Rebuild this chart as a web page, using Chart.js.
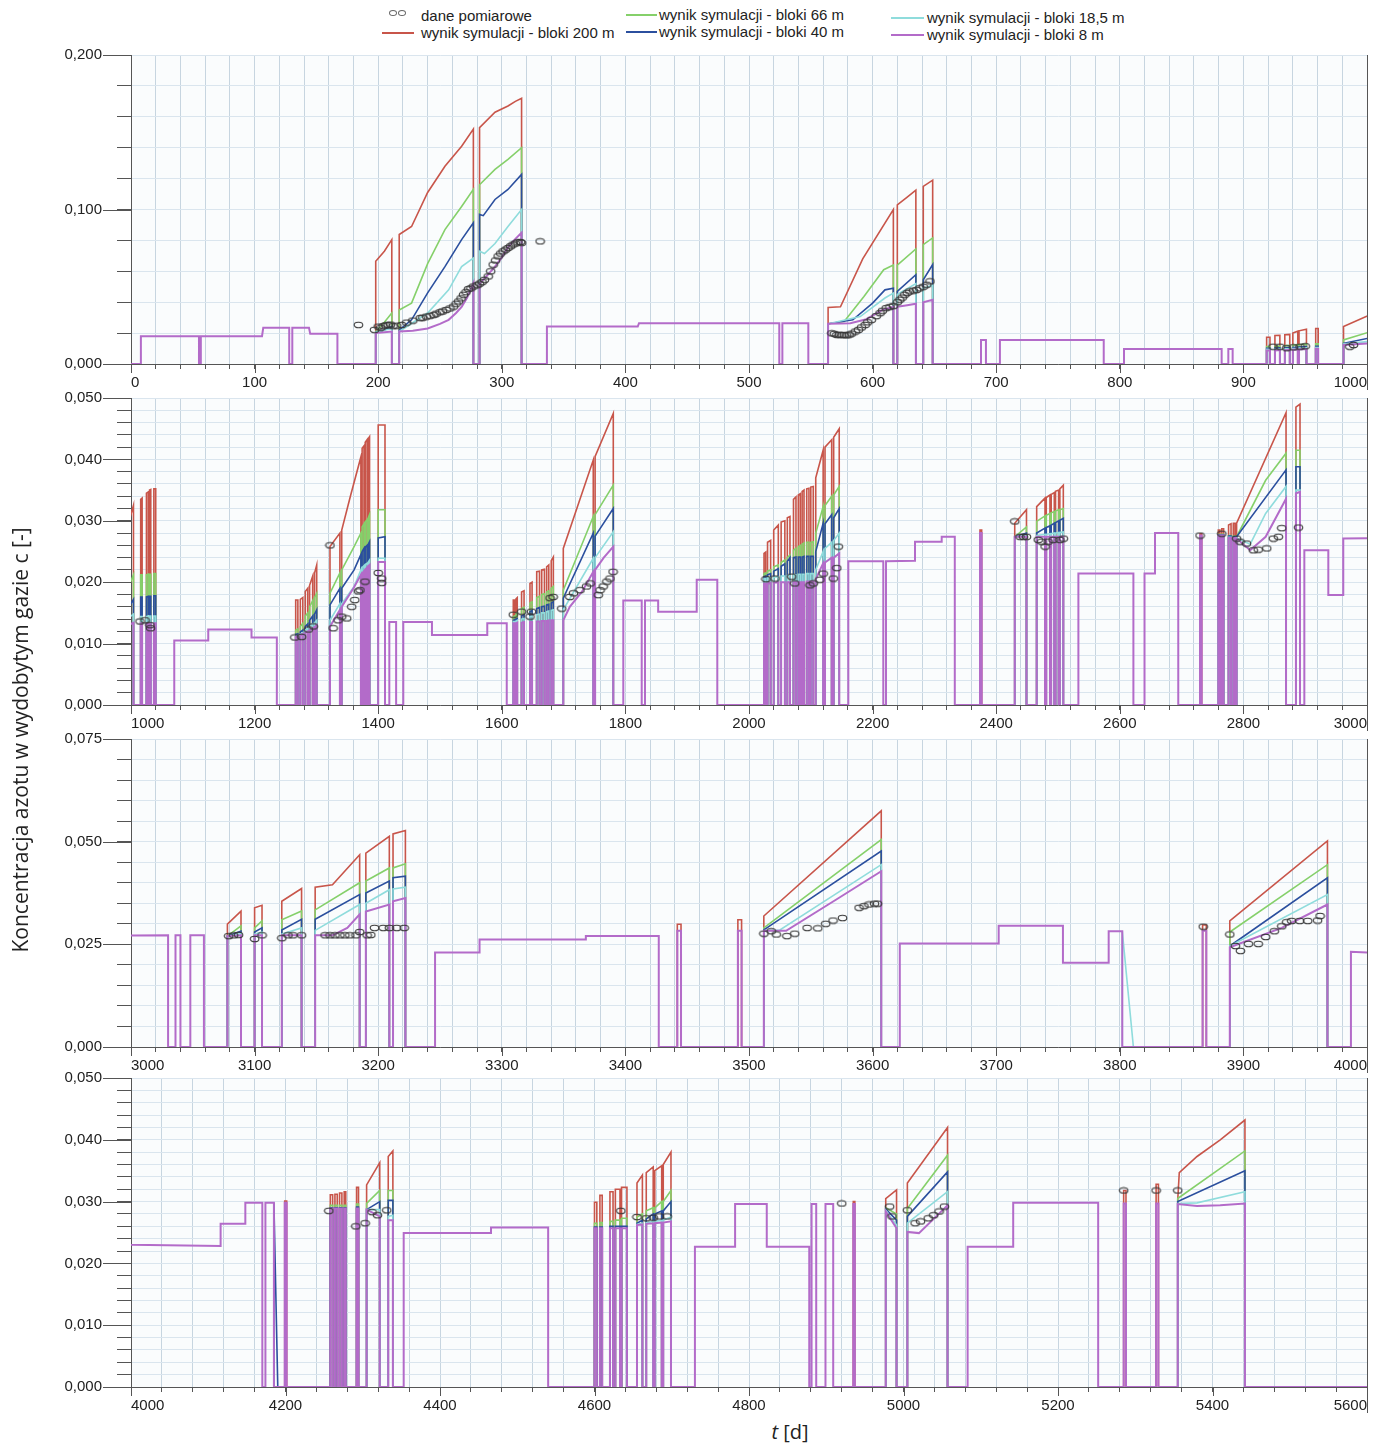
<!DOCTYPE html>
<html>
<head>
<meta charset="utf-8">
<script src="https://cdn.jsdelivr.net/npm/chart.js@4.4.1/dist/chart.umd.min.js"></script>
<style>
  body { margin: 0; background: #fff; width: 1384px; height: 1444px; position: relative; overflow: hidden;
         font-family: 'Liberation Sans', Arial, sans-serif; color: #222; }
  .panel { position: absolute; left: 0; }
  .lg { position: absolute; font-size: 15px; line-height: 16px; white-space: nowrap; }
  .ln { position: absolute; height: 2px; }
  .dot { position: absolute; width: 6px; height: 4px; border: 1px solid #666; border-radius: 50%; }
  #ytitle { position: absolute; left: -280px; top: 726px; width: 600px; text-align: center;
            font-family: 'Open Sans', sans-serif; font-size: 21px; transform: rotate(-90deg); }
  #xtitle { position: absolute; left: 740px; top: 1418px; width: 100px; text-align: center;
            font-family: 'Open Sans', sans-serif; font-size: 20px; }
</style>
</head>
<body>

<span class="dot" style="left:389px;top:10px"></span>
<span class="dot" style="left:398px;top:10px"></span>
<div class="lg" style="left:421px;top:8px">dane pomiarowe</div>
<span class="ln" style="left:382px;top:32px;width:32px;background:#c8554a"></span>
<div class="lg" style="left:421px;top:25px">wynik symulacji - bloki 200 m</div>
<span class="ln" style="left:626px;top:14px;width:31px;background:#85d06a"></span>
<div class="lg" style="left:659px;top:7px">wynik symulacji - bloki 66 m</div>
<span class="ln" style="left:626px;top:31px;width:31px;background:#2b4f9e"></span>
<div class="lg" style="left:659px;top:24px">wynik symulacji - bloki 40 m</div>
<span class="ln" style="left:891px;top:17px;width:33px;background:#8fdcdc"></span>
<div class="lg" style="left:927px;top:10px">wynik symulacji - bloki 18,5 m</div>
<span class="ln" style="left:891px;top:34px;width:33px;background:#b36bc9"></span>
<div class="lg" style="left:927px;top:27px">wynik symulacji - bloki 8 m</div>

<div class="panel" style="top:45px"><canvas id="p0" width="1384" height="349"></canvas></div>
<div class="panel" style="top:388px"><canvas id="p1" width="1384" height="347"></canvas></div>
<div class="panel" style="top:729px"><canvas id="p2" width="1384" height="348"></canvas></div>
<div class="panel" style="top:1068px"><canvas id="p3" width="1384" height="349"></canvas></div>

<div id="ytitle">Koncentracja azotu w wydobytym gazie c [-]</div>
<div id="xtitle"><i>t</i> [d]</div>

<script>
// axis ranges of the four stacked panels (t in days)
const xRanges = [[0, 1000], [1000, 3000], [3000, 4000], [4000, 5600]];
const xGridStep = [20, 40, 20, 40];
const xLabelStep = [100, 200, 100, 200];
const yMax = [0.2, 0.05, 0.075, 0.05];
const yGridStep = [0.02, 0.002, 0.005, 0.002];
const yLabelStep = [0.1, 0.01, 0.025, 0.01];

// measured nitrogen content [t, c]
const measured = [
  [184,0.0253],[197,0.0221],[200,0.0242],[202,0.0235],[204,0.0245],[206,0.025],[208,0.0253],[210,0.0255],
  [212,0.0245],[215,0.0248],[219,0.0253],[223,0.0268],[228,0.0281],[234,0.0297],[236,0.030],[239,0.0307],
  [242,0.0312],[245,0.0318],[247,0.0326],[250,0.0335],[252,0.034],[255,0.035],[258,0.036],[261,0.0372],
  [263,0.039],[265,0.0405],[267,0.0425],[269,0.0448],[271,0.0465],[273,0.0485],[275,0.049],[277,0.0502],
  [280,0.051],[282,0.052],[284,0.053],[286,0.0545],[289,0.0567],[291,0.060],[293,0.0643],[295,0.067],
  [297,0.0697],[299,0.0715],[301,0.0729],[303,0.074],[305,0.0751],[307,0.0762],[309,0.0773],[311,0.078],
  [313,0.0788],[315,0.079],[316,0.0784],[331,0.0794],
  [567,0.0199],[569,0.0195],[571,0.0188],[573,0.019],[575,0.0188],[577,0.0187],[579,0.0186],[581,0.019],
  [583,0.0197],[586,0.021],[588.5,0.0221],[591,0.0237],[594,0.0253],[596,0.027],[599,0.0286],[603,0.031],
  [606,0.0329],[608,0.0345],[611,0.0362],[614,0.037],[617,0.0377],[620,0.040],[622,0.0416],[624,0.043],
  [626,0.0448],[628,0.046],[630,0.047],[633,0.0475],[635.6,0.048],[638,0.049],[641,0.050],[643.8,0.0513],
  [646.4,0.0535],
  [924,0.0112],[929.6,0.0112],[935,0.0102],[940.4,0.0108],[945.8,0.0112],[950,0.0115],[986,0.0112],[989,0.0123],
  [1014.6,0.0136],[1022.7,0.0138],[1030.7,0.013],[1031.5,0.0125],
  [1265,0.011],[1276,0.0111],[1287,0.0123],[1295,0.0128],[1322,0.026],[1327,0.0125],[1335,0.0138],[1341,0.0144],
  [1349,0.0141],[1357,0.016],[1362,0.0171],[1368,0.0185],[1370.5,0.0187],[1378.6,0.0201],[1400,0.0215],
  [1405.6,0.0206],[1405.6,0.0199],
  [1618.6,0.0147],[1632,0.0152],[1645.6,0.0144],[1648,0.0152],[1678,0.0174],[1683,0.0176],[1697,0.0157],
  [1710,0.0176],[1716,0.0182],[1726.5,0.0187],[1737,0.0193],[1743,0.0198],[1756,0.0179],[1759,0.0187],
  [1764,0.0193],[1770,0.0201],[1775,0.0206],[1780,0.0217],
  [2027.5,0.0205],[2042,0.0206],[2069,0.0209],[2074,0.0198],[2098.7,0.0195],[2104,0.0198],[2114.6,0.0204],
  [2120,0.0214],[2136.4,0.0206],[2142,0.0223],[2144.5,0.0258],
  [2430,0.0299],[2438.5,0.0274],[2444,0.0274],[2449,0.0274],[2468,0.0269],[2473.6,0.0266],[2479,0.0258],
  [2484,0.0266],[2492,0.0269],[2503,0.0269],[2508.6,0.0271],
  [2729.8,0.0276],[2765,0.0279],[2789,0.0271],[2794.5,0.0266],[2805,0.0263],[2816,0.0252],[2824,0.0253],
  [2837.7,0.0255],[2848.5,0.0271],[2856.5,0.0274],[2862,0.0288],[2889,0.0289],
  [3079,0.027],[3083,0.0272],[3087,0.0273],[3100,0.0263],[3106,0.0272],[3122,0.0265],[3127,0.0272],[3131,0.0272],
  [3138,0.0272],[3157,0.0272],[3161,0.0272],[3165,0.0272],[3169,0.0272],[3173,0.0272],[3177,0.0272],[3182,0.0272],
  [3185,0.028],[3191,0.0272],[3194,0.0273],[3197,0.029],[3204,0.029],[3209,0.029],[3215,0.029],[3221,0.029],
  [3512,0.0276],[3518,0.0282],[3522,0.0274],[3530.6,0.027],[3537,0.0276],[3547,0.029],[3555.6,0.0289],[3562,0.03],
  [3568,0.0308],[3575.6,0.0314],[3589,0.0339],[3593,0.0343],[3597,0.0347],[3601.5,0.0349],[3604,0.0349],
  [3867.5,0.0293],
  [3889,0.0274],[3893.5,0.0246],[3897.6,0.0234],[3904,0.0251],[3912,0.0251],[3918,0.0268],[3925,0.0282],
  [3931,0.0294],[3935,0.0304],[3939,0.0307],[3945.5,0.0307],[3952,0.0307],[3960,0.0308],[3962,0.0319],
  [4256,0.0285],[4291,0.026],[4303,0.0265],[4312,0.0283],[4319,0.0278],[4331,0.0286],
  [4634,0.0285],[4655,0.0275],[4667,0.0273],[4676,0.0274],[4684,0.0276],[4694,0.0276],
  [4920,0.0297],
  [4982,0.0292],[4985,0.0276],[5005,0.0286],[5015,0.0265],[5022,0.0268],[5032,0.0273],[5039,0.0278],
  [5046,0.0284],[5053,0.0292],
  [5285,0.0318],[5327,0.0318],[5355,0.0318]
];

// simulated runs: each run is a production period [t, c]...; the well is shut (c = 0) between runs
const sim200 = [
  [[198,0.0665],[205,0.073],[211,0.0805]],
  [[217,0.0838],[227,0.089],[240,0.111],[254,0.128],[267.5,0.141],[277,0.152]],
  [[282,0.153],[294.5,0.163],[305,0.167],[311,0.170],[316,0.172]],
  [[564,0.0366],[574,0.037],[592,0.068],[616.8,0.1]],
  [[620,0.103],[628,0.108],[635,0.1125]],
  [[641,0.115],[648.6,0.119]],
  [[918.8,0.0173],[921.5,0.0173]],[[925.5,0.0184],[929.5,0.0186]],[[933.5,0.019],[937.5,0.0192]],
  [[940,0.020],[944,0.0212]],[[945,0.0215],[951,0.0225]],[[958.5,0.023],[960.5,0.023]],
  [[981,0.0242],[1004,0.0325]],
  [[1015.7,0.0335],[1018,0.0337]],[[1025,0.0345],[1028,0.0347]],[[1030,0.035],[1032,0.0351]],[[1037,0.0352],[1040,0.0352]],
  [[1266.5,0.0171],[1270,0.0171]],[[1274,0.0172],[1278,0.0175]],[[1282,0.0185],[1286,0.019]],
  [[1289,0.0195],[1294,0.021]],[[1297,0.0215],[1300.5,0.0228]],
  [[1322,0.0258],[1338,0.028]],
  [[1341,0.0285],[1355,0.034],[1372,0.0404]],
  [[1374,0.0418],[1377,0.0422]],[[1379,0.0428],[1382,0.0432]],[[1384,0.0434],[1386,0.0437]],
  [[1400,0.0456],[1411,0.0456]],
  [[1618.6,0.0171],[1621,0.0171]],[[1623,0.0173],[1625,0.0175]],[[1632,0.0184],[1636,0.0186]],
  [[1645.6,0.0198],[1649,0.02]],[[1656.5,0.0217],[1661,0.0218]],[[1664.6,0.022],[1669,0.0221]],
  [[1672.6,0.0225],[1676,0.0228]],[[1680,0.0235],[1683.4,0.0241]],
  [[1699.5,0.0255],[1748,0.0399]],
  [[1751,0.0405],[1780.4,0.0475]],
  [[2024.3,0.0247],[2027,0.0249]],[[2030,0.0265],[2035,0.0268]],[[2040,0.0285],[2047.4,0.0293]],
  [[2052,0.0298],[2058,0.03]],[[2062,0.0305],[2066.3,0.0307]],[[2072,0.0335],[2076,0.0339]],
  [[2079.8,0.0342],[2083,0.0344]],[[2086,0.0348],[2089,0.035]],[[2093.4,0.0352],[2097,0.0353]],
  [[2100,0.0355],[2104,0.0356]],
  [[2108,0.037],[2120,0.0415]],[[2123,0.042],[2133.8,0.0432]],[[2137,0.0436],[2146,0.045]],
  [[2373.8,0.0285],[2376.5,0.0285]],
  [[2430,0.0296],[2449,0.0318]],
  [[2465.5,0.0323],[2479,0.0337]],[[2481,0.0338],[2487,0.0342]],[[2489,0.0343],[2494,0.0346]],
  [[2496,0.0348],[2501,0.035]],[[2503,0.0352],[2508.6,0.0358]],
  [[2729.8,0.0279],[2732.5,0.0279]],
  [[2759.4,0.0285],[2762,0.0285]],[[2765,0.0287],[2768,0.0287]],[[2776,0.0293],[2780,0.0295]],
  [[2783.7,0.0296],[2786.5,0.0296]],
  [[2789,0.0296],[2869,0.0476]],
  [[2885,0.0485],[2891.6,0.049]],
  [[3078,0.0299],[3089,0.0331]],
  [[3100,0.0339],[3106,0.0345]],
  [[3122,0.0355],[3138,0.0386]],
  [[3149,0.0389],[3163,0.0395],[3185,0.0468]],
  [[3190,0.0472],[3209,0.0513]],
  [[3212,0.0519],[3222,0.0527]],
  [[3442,0.0299],[3445,0.0299]],
  [[3491,0.031],[3494,0.031]],
  [[3512,0.0319],[3607,0.0575]],
  [[3867,0.0297],[3870,0.0297]],
  [[3889,0.0307],[3968,0.0502]],
  [[4199,0.0301],[4201.5,0.0301]],
  [[4258,0.0311],[4261,0.0311]],[[4264,0.0312],[4267,0.0312]],[[4270,0.0314],[4273,0.0314]],[[4276,0.0316],[4278,0.0316]],
  [[4292,0.0323],[4294.5,0.0323]],
  [[4305,0.0327],[4322,0.0363]],
  [[4333,0.0373],[4339,0.0382]],
  [[4600,0.0299],[4603,0.0299]],[[4607,0.031],[4610,0.031]],[[4620,0.0316],[4624,0.0316]],
  [[4627,0.032],[4633,0.032]],[[4635,0.0323],[4642,0.0323]],
  [[4655,0.033],[4662,0.0343]],[[4667,0.0347],[4676,0.0356]],[[4678,0.035],[4687,0.0358]],[[4689,0.036],[4699,0.038]],
  [[4935,0.030],[4937,0.030]],
  [[4977,0.0305],[4991,0.0319]],
  [[5005,0.033],[5057,0.042]],
  [[5285,0.0318],[5288,0.0318]],
  [[5327,0.0328],[5330,0.0328]],
  [[5355,0.0303],[5357,0.0347],[5380,0.0373],[5410,0.040],[5442,0.0432]]
];

const sim66 = [
  [[198,0.021],[205,0.027],[211,0.033]],
  [[217,0.035],[227,0.0394],[240,0.065],[254,0.087],[267.5,0.102],[277,0.113]],
  [[282,0.116],[294.5,0.126],[305,0.1325],[316,0.140]],
  [[564,0.026],[577,0.0275],[593,0.0437],[609,0.061],[616.8,0.064]],
  [[620,0.064],[635,0.0745]],
  [[641,0.0773],[648.6,0.0816]],
  [[918.8,0.0113],[921.5,0.0113]],[[925.5,0.0115],[929.5,0.0116]],[[933.5,0.0118],[937.5,0.012]],
  [[940,0.0122],[944,0.0125]],[[945,0.0125],[951,0.0128]],[[958.5,0.013],[960.5,0.013]],
  [[981,0.0156],[1004,0.0212]],
  [[1015.7,0.0212],[1018,0.0212]],[[1025,0.0212],[1028,0.0213]],[[1030,0.0213],[1032,0.0213]],[[1037,0.0214],[1040,0.0214]],
  [[1266.5,0.0122],[1270,0.0124]],[[1274,0.0128],[1278,0.0133]],[[1282,0.0145],[1286,0.015]],
  [[1289,0.016],[1294,0.017]],[[1297,0.0175],[1300.5,0.0182]],
  [[1322,0.0182],[1338,0.0215]],
  [[1341,0.022],[1361,0.0258],[1372,0.028]],
  [[1374,0.029],[1377,0.0295]],[[1379,0.0298],[1382,0.0302]],[[1384,0.0305],[1386,0.031]],
  [[1400,0.0318],[1411,0.0318]],
  [[1618.6,0.0144],[1621,0.0145]],[[1623,0.0148],[1625,0.015]],[[1632,0.0157],[1636,0.0159]],
  [[1645.6,0.0166],[1649,0.0168]],[[1656.5,0.0175],[1661,0.0177]],[[1664.6,0.018],[1669,0.0181]],
  [[1672.6,0.0184],[1676,0.0186]],[[1680,0.019],[1683.4,0.0193]],
  [[1699.5,0.0187],[1748,0.0307]],
  [[1751,0.031],[1780.4,0.0358]],
  [[2024.3,0.0214],[2027,0.0215]],[[2030,0.0218],[2035,0.022]],[[2040,0.0225],[2047.4,0.0228]],
  [[2052,0.0232],[2058,0.0236]],[[2062,0.024],[2066.3,0.0244]],[[2072,0.0252],[2076,0.0255]],
  [[2079.8,0.0258],[2083,0.026]],[[2086,0.0262],[2089,0.0264]],[[2093.4,0.0265],[2097,0.0265]],
  [[2100,0.0265],[2104,0.0266]],
  [[2108,0.028],[2120,0.0323]],[[2123,0.0325],[2133.8,0.034]],[[2137,0.0342],[2146,0.0356]],
  [[2430,0.0274],[2449,0.029]],
  [[2465.5,0.0299],[2479,0.0308]],[[2481,0.0309],[2487,0.0312]],[[2489,0.0313],[2494,0.0315]],
  [[2496,0.0316],[2501,0.0318]],[[2503,0.0318],[2508.6,0.032]],
  [[2759.4,0.0278],[2762,0.0278]],[[2765,0.0278],[2768,0.0278]],[[2776,0.0276],[2780,0.0276]],
  [[2783.7,0.0275],[2786.5,0.0275]],
  [[2789,0.0274],[2836,0.0366],[2869,0.041]],
  [[2885,0.0415],[2891.6,0.0415]],
  [[3078,0.027],[3089,0.0295]],
  [[3100,0.029],[3106,0.0307]],
  [[3122,0.031],[3138,0.0331]],
  [[3149,0.0334],[3185,0.040]],
  [[3190,0.0404],[3209,0.0436]],
  [[3212,0.0436],[3222,0.0446]],
  [[3512,0.029],[3607,0.0505]],
  [[3889,0.028],[3968,0.0444]],
  [[4258,0.0294],[4261,0.0294]],[[4264,0.0294],[4267,0.0294]],[[4270,0.0294],[4273,0.0294]],[[4276,0.0294],[4278,0.0294]],
  [[4292,0.0296],[4294.5,0.0296]],
  [[4305,0.0297],[4322,0.0318]],
  [[4333,0.0318],[4339,0.0318]],
  [[4600,0.0265],[4603,0.0265]],[[4607,0.0266],[4610,0.0266]],[[4620,0.0268],[4624,0.0268]],
  [[4627,0.027],[4633,0.027]],[[4635,0.0273],[4642,0.0273]],
  [[4655,0.0275],[4662,0.028]],[[4667,0.0285],[4676,0.029]],[[4678,0.029],[4687,0.03]],[[4689,0.030],[4699,0.0318]],
  [[4977,0.029],[4991,0.028]],
  [[5005,0.0289],[5057,0.0375]],
  [[5355,0.0305],[5442,0.0382]]
];

const sim40 = [
  [[198,0.0205],[205,0.022],[211,0.0242]],
  [[217,0.022],[227,0.0286],[240,0.046],[254,0.063],[267.5,0.0805],[277,0.0914]],
  [[282,0.0968],[285,0.096],[294.5,0.1065],[305,0.113],[316,0.1227]],
  [[564,0.026],[584,0.0286],[600,0.0394],[610,0.048],[616.8,0.049]],
  [[620,0.047],[635,0.0578]],
  [[641,0.0545],[648.6,0.0643]],
  [[918.8,0.0102],[921.5,0.0102]],[[925.5,0.0103],[929.5,0.0104]],[[933.5,0.0105],[937.5,0.0106]],
  [[940,0.0107],[944,0.0109]],[[945,0.011],[951,0.0112]],[[958.5,0.0114],[960.5,0.0114]],
  [[981,0.0134],[1004,0.0172]],
  [[1015.7,0.0176],[1018,0.0176]],[[1025,0.0176],[1028,0.0177]],[[1030,0.0177],[1032,0.0177]],[[1037,0.0178],[1040,0.0178]],
  [[1266.5,0.0115],[1270,0.0116]],[[1274,0.0119],[1278,0.0122]],[[1282,0.0128],[1286,0.0132]],
  [[1289,0.0138],[1294,0.0145]],[[1297,0.0148],[1300.5,0.0155]],
  [[1322,0.0163],[1338,0.019]],
  [[1341,0.019],[1361,0.022],[1372,0.0245]],
  [[1374,0.025],[1377,0.0255]],[[1379,0.0257],[1382,0.026]],[[1384,0.0262],[1386,0.0266]],
  [[1400,0.0272],[1411,0.0274]],
  [[1618.6,0.0138],[1621,0.0139]],[[1623,0.014],[1625,0.0141]],[[1632,0.0145],[1636,0.0147]],
  [[1645.6,0.0152],[1649,0.0154]],[[1656.5,0.0157],[1661,0.0159]],[[1664.6,0.016],[1669,0.0161]],
  [[1672.6,0.0163],[1676,0.0164]],[[1680,0.0166],[1683.4,0.0168]],
  [[1699.5,0.0174],[1748,0.028]],
  [[1751,0.0275],[1780.4,0.032]],
  [[2024.3,0.0209],[2027,0.021]],[[2030,0.0212],[2035,0.0214]],[[2040,0.0218],[2047.4,0.0222]],
  [[2052,0.0226],[2058,0.023]],[[2062,0.0234],[2066.3,0.024]],[[2072,0.024],[2076,0.0241]],
  [[2079.8,0.0241],[2083,0.0241]],[[2086,0.0241],[2089,0.0242]],[[2093.4,0.0242],[2097,0.0242]],
  [[2100,0.0242],[2104,0.0242]],
  [[2108,0.025],[2120,0.0296]],[[2123,0.0295],[2133.8,0.031]],[[2137,0.0305],[2146,0.032]],
  [[2430,0.0274],[2449,0.028]],
  [[2465.5,0.028],[2479,0.0288]],[[2481,0.0289],[2487,0.0292]],[[2489,0.0293],[2494,0.0296]],
  [[2496,0.0297],[2501,0.03]],[[2503,0.0301],[2508.6,0.0304]],
  [[2759.4,0.0277],[2762,0.0277]],[[2765,0.0277],[2768,0.0277]],[[2776,0.0275],[2780,0.0275]],
  [[2783.7,0.0274],[2786.5,0.0274]],
  [[2789,0.0274],[2869,0.0383]],
  [[2885,0.0388],[2891.6,0.0388]],
  [[3078,0.027],[3089,0.0282]],
  [[3100,0.028],[3106,0.029]],
  [[3122,0.0285],[3138,0.0311]],
  [[3149,0.0311],[3185,0.0371]],
  [[3190,0.0375],[3209,0.0404]],
  [[3212,0.0412],[3222,0.0416]],
  [[3512,0.0285],[3607,0.0477]],
  [[3889,0.0246],[3968,0.0412]],
  [[4185,0.0298],[4190,0]],
  [[4258,0.029],[4261,0.029]],[[4264,0.029],[4267,0.029]],[[4270,0.029],[4273,0.029]],[[4276,0.029],[4278,0.029]],
  [[4292,0.0291],[4294.5,0.0291]],
  [[4305,0.0287],[4322,0.030]],
  [[4333,0.0302],[4339,0.0302]],
  [[4600,0.0259],[4603,0.0259]],[[4607,0.0259],[4610,0.0259]],[[4620,0.026],[4624,0.026]],
  [[4627,0.026],[4633,0.026]],[[4635,0.026],[4642,0.026]],
  [[4655,0.0265],[4662,0.027]],[[4667,0.0272],[4676,0.028]],[[4678,0.028],[4687,0.0285]],[[4689,0.0285],[4699,0.030]],
  [[4977,0.0288],[4991,0.027]],
  [[5005,0.0276],[5057,0.0348]],
  [[5355,0.030],[5442,0.035]]
];

const sim18 = [
  [[198,0.0205],[211,0.023]],
  [[217,0.021],[240,0.033],[257,0.048],[267.5,0.063],[277,0.0686]],
  [[282,0.073],[286,0.0715],[294.5,0.078],[305,0.089],[316,0.100]],
  [[564,0.026],[590,0.0307],[610,0.0427],[616.8,0.0459]],
  [[620,0.045],[635,0.052]],
  [[641,0.049],[648.6,0.051]],
  [[918.8,0.0095],[921.5,0.0095]],[[925.5,0.0096],[929.5,0.0097]],[[933.5,0.0098],[937.5,0.0099]],
  [[940,0.01],[944,0.0102]],[[945,0.0103],[951,0.0105]],[[958.5,0.0106],[960.5,0.0106]],
  [[981,0.013],[1004,0.0148]],
  [[1015.7,0.0144],[1018,0.0144]],[[1025,0.0144],[1028,0.0145]],[[1030,0.0145],[1032,0.0145]],[[1037,0.0145],[1040,0.0145]],
  [[1266.5,0.0112],[1270,0.0113]],[[1274,0.0115],[1278,0.0118]],[[1282,0.0122],[1286,0.0125]],
  [[1289,0.0128],[1294,0.0132]],[[1297,0.0134],[1300.5,0.0138]],
  [[1322,0.0138],[1338,0.0165]],
  [[1341,0.0165],[1361,0.0193],[1372,0.022]],
  [[1374,0.0224],[1377,0.0227]],[[1379,0.0229],[1382,0.0231]],[[1384,0.0233],[1386,0.0236]],
  [[1400,0.0239],[1411,0.0239]],
  [[1618.6,0.0136],[1621,0.0136]],[[1623,0.0137],[1625,0.0138]],[[1632,0.014],[1636,0.0141]],
  [[1645.6,0.0144],[1649,0.0145]],[[1656.5,0.0147],[1661,0.0148]],[[1664.6,0.015],[1669,0.015]],
  [[1672.6,0.0152],[1676,0.0153]],[[1680,0.0154],[1683.4,0.0155]],
  [[1699.5,0.0155],[1748,0.0239]],
  [[1751,0.024],[1780.4,0.0282]],
  [[2024.3,0.0206],[2027,0.0206]],[[2030,0.0207],[2035,0.0207]],[[2040,0.0208],[2047.4,0.0209]],
  [[2052,0.021],[2058,0.021]],[[2062,0.0211],[2066.3,0.0211]],[[2072,0.0212],[2076,0.0212]],
  [[2079.8,0.0213],[2083,0.0213]],[[2086,0.0213],[2089,0.0213]],[[2093.4,0.0214],[2097,0.0214]],
  [[2100,0.0214],[2104,0.0214]],
  [[2108,0.022],[2120,0.025]],[[2123,0.0255],[2133.8,0.0265]],[[2137,0.0268],[2146,0.028]],
  [[2430,0.0274],[2449,0.0276]],
  [[2465.5,0.0276],[2479,0.0278]],[[2481,0.0278],[2487,0.0279]],[[2489,0.0279],[2494,0.028]],
  [[2496,0.028],[2501,0.0281]],[[2503,0.0281],[2508.6,0.0282]],
  [[2759.4,0.0276],[2762,0.0276]],[[2765,0.0276],[2768,0.0276]],[[2776,0.0273],[2780,0.0273]],
  [[2783.7,0.0272],[2786.5,0.0272]],
  [[2789,0.0272],[2811,0.0262],[2836,0.0312],[2869,0.0356]],
  [[2885,0.035],[2891.6,0.035]],
  [[3078,0.027],[3089,0.0276]],
  [[3100,0.0275],[3106,0.028]],
  [[3122,0.0275],[3138,0.029]],
  [[3149,0.0284],[3185,0.0347]],
  [[3190,0.035],[3209,0.0383]],
  [[3212,0.0385],[3222,0.0389]],
  [[3512,0.0283],[3525,0.0285],[3607,0.0444]],
  [[3802,0.0282],[3811,0]],
  [[3889,0.0246],[3968,0.0371]],
  [[4305,0.0287],[4322,0.0287]],
  [[4333,0.0276],[4339,0.0278]],
  [[4655,0.0263],[4662,0.0265]],[[4667,0.0266],[4676,0.0268]],[[4678,0.0268],[4687,0.027]],[[4689,0.027],[4699,0.0275]],
  [[4977,0.0286],[4991,0.0262]],
  [[5005,0.0265],[5057,0.0316]],
  [[5355,0.0297],[5380,0.0298],[5442,0.0316]]
];

const sim8 = [
  [[8,0.018],[55,0.018]],
  [[56.5,0.018],[106,0.018],[107,0.0234],[128,0.0234]],
  [[130.5,0.0234],[144,0.0234],[145,0.0195],[167,0.0195]],
  [[198,0.020],[205,0.0205],[211,0.021]],
  [[217,0.021],[228,0.0215],[240,0.023],[250,0.026],[257,0.0286],[263,0.033],[267.5,0.037],[272,0.043],[277,0.0525]],
  [[282,0.052],[289,0.058],[294.5,0.063],[300,0.069],[305.4,0.076],[311,0.081],[316,0.085]],
  [[336.5,0.0242],[410,0.0242],[411,0.0264],[524.5,0.0264]],
  [[527,0.0264],[548,0.0264]],
  [[564,0.026],[574,0.0262],[582,0.0264],[595,0.029],[608,0.035],[616.8,0.037]],
  [[620,0.037],[628,0.038],[635,0.039]],
  [[641,0.040],[648.6,0.0416]],
  [[687.7,0.0156],[691.7,0.0156]],
  [[703,0.0156],[787,0.0156]],
  [[803.4,0.0097],[882.4,0.0097]],
  [[887.8,0.0097],[891.3,0.0097]],
  [[918.8,0.0087],[921.5,0.0087]],[[925.5,0.0088],[929.5,0.009]],[[933.5,0.009],[937.5,0.0092]],
  [[940,0.0093],[944,0.0095]],[[945,0.0095],[951,0.0097]],[[958.5,0.0098],[960.5,0.0098]],
  [[981,0.0123],[1004,0.0134]],
  [[1015.7,0.0133],[1018,0.0133]],[[1025,0.0133],[1028,0.0133]],[[1030,0.0133],[1032,0.0133]],[[1037,0.0133],[1040,0.0133]],
  [[1070,0.0105],[1125,0.0105],[1125,0.0123],[1195,0.0123],[1195,0.011],[1236,0.011]],
  [[1266.5,0.0111],[1270,0.0112]],[[1274,0.0114],[1278,0.0116]],[[1282,0.0118],[1286,0.012]],
  [[1289,0.0122],[1294,0.0125]],[[1297,0.0127],[1300.5,0.013]],
  [[1322,0.0128],[1338,0.0155]],
  [[1341,0.016],[1360,0.019],[1372,0.0212]],
  [[1374,0.0214],[1377,0.0218]],[[1379,0.022],[1382,0.0224]],[[1384,0.0226],[1386,0.0228]],
  [[1400,0.0233],[1411,0.0233]],
  [[1418,0.0135],[1429,0.0135]],
  [[1440.6,0.0135],[1487,0.0135],[1487,0.0114],[1576.5,0.0114],[1576.5,0.0133],[1608,0.0133]],
  [[1618.6,0.0133],[1621,0.0133]],[[1623,0.0133],[1625,0.0134]],[[1632,0.0134],[1636,0.0135]],
  [[1645.6,0.0135],[1649,0.0135]],[[1656.5,0.0136],[1661,0.0136]],[[1664.6,0.0137],[1669,0.0137]],
  [[1672.6,0.0137],[1676,0.0138]],[[1680,0.0138],[1683.4,0.0138]],
  [[1699.5,0.0138],[1710,0.016],[1730,0.0185],[1748,0.0217]],
  [[1751,0.022],[1765,0.024],[1780.4,0.0258]],
  [[1796.6,0.017],[1826.4,0.017]],
  [[1831.7,0.017],[1853,0.017],[1853,0.0152],[1915.4,0.0152],[1915.4,0.0204],[1948.7,0.0204]],
  [[2024.3,0.0198],[2027,0.0198]],[[2030,0.0198],[2035,0.0199]],[[2040,0.0199],[2047.4,0.02]],
  [[2052,0.02],[2058,0.02]],[[2062,0.02],[2066.3,0.02]],[[2072,0.02],[2076,0.02]],
  [[2079.8,0.02],[2083,0.02]],[[2086,0.02],[2089,0.02]],[[2093.4,0.0201],[2097,0.0201]],
  [[2100,0.0201],[2104,0.0201]],
  [[2108,0.0205],[2120,0.0231]],[[2123,0.0232],[2133.8,0.024]],[[2137,0.024],[2146,0.0247]],
  [[2160.7,0.0234],[2217.3,0.0234]],
  [[2221.7,0.0234],[2268.6,0.0235],[2268.6,0.0266],[2311.8,0.0266],[2311.8,0.0274],[2333,0.0274]],
  [[2373.8,0.028],[2376.5,0.028]],
  [[2430,0.0274],[2449,0.0274]],
  [[2465.5,0.0274],[2479,0.0274]],[[2481,0.0274],[2487,0.0274]],[[2489,0.0274],[2494,0.0274]],
  [[2496,0.0274],[2501,0.0274]],[[2503,0.0274],[2508.6,0.0274]],
  [[2533,0.0214],[2622,0.0214]],
  [[2640,0.0214],[2657,0.0214],[2657,0.028],[2694.6,0.028]],
  [[2729.8,0.0276],[2732.5,0.0276]],
  [[2759.4,0.0276],[2762,0.0276]],[[2765,0.0276],[2768,0.0276]],[[2776,0.0272],[2780,0.0272]],
  [[2783.7,0.0272],[2786.5,0.0272]],
  [[2789,0.0271],[2811,0.0252],[2836,0.0274],[2869,0.0336]],
  [[2885,0.0345],[2891.6,0.0347]],
  [[2898.6,0.0252],[2937.4,0.0252],[2937.4,0.0179],[2961.6,0.0179],[2961.6,0.0271],[3030,0.0272]],
  [[3036,0.0272],[3040,0.0272]],
  [[3048,0.0272],[3059,0.0272]],
  [[3078,0.027],[3089,0.0272]],
  [[3100,0.0272],[3106,0.0272]],
  [[3122,0.0272],[3138,0.0272]],
  [[3149,0.0272],[3163,0.0272],[3175,0.029],[3185,0.0323]],
  [[3190,0.033],[3209,0.0347]],
  [[3212,0.0355],[3222,0.0363]],
  [[3246,0.023],[3282,0.023],[3282,0.0262],[3368,0.0262],[3368,0.027],[3427,0.027]],
  [[3442,0.0283],[3445,0.0283]],
  [[3491,0.0283],[3494,0.0283]],
  [[3512,0.0283],[3530,0.0283],[3570,0.0358],[3607,0.0428]],
  [[3622,0.0252],[3702,0.0252],[3702,0.0295],[3754,0.0295],[3754,0.0205],[3791,0.0205],[3791,0.0282],[3802,0.0282]],
  [[3867,0.0283],[3870,0.0283]],
  [[3889,0.0243],[3931,0.029],[3968,0.0347]],
  [[3987,0.0232],[4000,0.023],[4116,0.0228],[4116,0.0264],[4148,0.0264],[4148,0.0298],[4170,0.0298]],
  [[4174,0.0298],[4185,0.0298]],
  [[4199,0.0298],[4201.5,0.0298]],
  [[4258,0.0289],[4261,0.0289]],[[4264,0.0289],[4267,0.0289]],[[4270,0.0289],[4273,0.0289]],[[4276,0.0289],[4278,0.0289]],
  [[4292,0.0289],[4294.5,0.0289]],
  [[4305,0.0287],[4322,0.0276]],
  [[4333,0.027],[4339,0.027]],
  [[4353,0.0249],[4466,0.0249],[4466,0.0258],[4540,0.0258]],
  [[4600,0.0257],[4603,0.0257]],[[4607,0.0257],[4610,0.0257]],[[4620,0.0257],[4624,0.0257]],
  [[4627,0.0257],[4633,0.0257]],[[4635,0.0257],[4642,0.0257]],
  [[4655,0.0262],[4662,0.0263]],[[4667,0.0264],[4676,0.0265]],[[4678,0.0265],[4687,0.0266]],[[4689,0.0266],[4699,0.0268]],
  [[4730,0.0227],[4782,0.0227],[4782,0.0296],[4823,0.0296],[4823,0.0227],[4878,0.0227]],
  [[4881,0.0296],[4887,0.0296]],
  [[4899,0.0296],[4909,0.0296]],
  [[4935,0.0296],[4937,0.0296]],
  [[4977,0.0284],[4991,0.0257]],
  [[5005,0.0251],[5020,0.0249],[5057,0.0294]],
  [[5083,0.0227],[5142,0.0227],[5142,0.0298],[5252,0.0298]],
  [[5285,0.0297],[5288,0.0297]],
  [[5327,0.0297],[5330,0.0297]],
  [[5355,0.0296],[5380,0.0293],[5410,0.0294],[5442,0.0297]]
];

// turn production runs into a polyline that drops to zero at every shut-in
function toLine(runs, keepBase) {
  const pts = keepBase ? [[0, 0]] : [];
  runs.forEach(run => {
    const first = run[0], last = run[run.length - 1];
    pts.push([first[0], 0]);
    run.forEach(p => pts.push(p));
    pts.push([last[0], 0]);
    if (!keepBase) pts.push([last[0], null]);
  });
  if (keepBase) pts.push([5600, 0]);
  return pts;
}

function isMultiple(v, step) {
  const r = v / step;
  return Math.abs(r - Math.round(r)) < 1e-6;
}

// hollow ellipse marker for the measurements
const marker = document.createElement('canvas');
marker.width = 11; marker.height = 8;
(() => {
  const c = marker.getContext('2d');
  c.strokeStyle = '#383838';
  c.lineWidth = 1.1;
  c.beginPath();
  c.ellipse(5.5, 4, 4.3, 2.8, 0, 0, Math.PI * 2);
  c.stroke();
})();

const frame = {
  id: 'frame',
  beforeDraw(chart) {
    const { ctx, chartArea: a } = chart;
    ctx.save();
    ctx.fillStyle = '#fafcfd';
    ctx.fillRect(a.left, a.top, a.right - a.left, a.bottom - a.top);
    ctx.restore();
  },
  afterDraw(chart, args, opts) {
    const { ctx, chartArea: a, scales: { x, y } } = chart;
    ctx.save();
    ctx.strokeStyle = '#555';
    ctx.lineWidth = 1;
    ctx.beginPath();
    y.ticks.forEach(t => {
      if (!isMultiple(t.value, opts.yLabel)) return;
      const py = Math.round(y.getPixelForValue(t.value)) + 0.5;
      ctx.moveTo(a.left - 28, py);
      ctx.lineTo(a.left, py);
    });
    x.ticks.forEach(t => {
      if (!isMultiple(t.value, opts.xLabel)) return;
      const px = Math.round(x.getPixelForValue(t.value)) + 0.5;
      ctx.moveTo(px, a.bottom);
      ctx.lineTo(px, a.bottom + 9);
    });
    const rx = Math.round(a.right) + 0.5;
    ctx.moveTo(rx, a.top);
    ctx.lineTo(rx, a.bottom + 26);
    ctx.stroke();
    ctx.restore();
  }
};

const lineSets = [
  { data: measured, showLine: false, pointStyle: marker, pointRadius: 4 },
  { data: toLine(sim8, true), borderColor: '#b36bc9', borderWidth: 2 },
  { data: toLine(sim18, false), borderColor: '#8fdcdc', borderWidth: 1.6 },
  { data: toLine(sim40, false), borderColor: '#2b4f9e', borderWidth: 1.6 },
  { data: toLine(sim66, false), borderColor: '#85d06a', borderWidth: 1.6 },
  { data: toLine(sim200, false), borderColor: '#c8554a', borderWidth: 1.6 }
];

const tickFont = { family: "'Liberation Sans', Arial, sans-serif", size: 15 };

xRanges.forEach((range, i) => {
  new Chart(document.getElementById('p' + i), {
    type: 'line',
    data: {
      datasets: lineSets.map(s => Object.assign({ pointRadius: 0, fill: false, tension: 0 }, s))
    },
    options: {
      responsive: false,
      animation: false,
      events: [],
      layout: { padding: { top: 10, right: 17, left: 0, bottom: 0 } },
      plugins: {
        legend: { display: false },
        tooltip: { enabled: false },
        frame: { xLabel: xLabelStep[i], yLabel: yLabelStep[i] }
      },
      scales: {
        x: {
          type: 'linear',
          min: range[0],
          max: range[1],
          afterFit: s => { s.height = 30; s.paddingLeft = 0; s.paddingRight = 0; },
          border: { display: true, color: '#555' },
          grid: { color: '#c7d5e0', tickColor: '#555', tickLength: 5 },
          ticks: {
            stepSize: xGridStep[i],
            autoSkip: false,
            maxRotation: 0,
            minRotation: 0,
            align: 'inner',
            padding: 5,
            color: '#222',
            font: tickFont,
            callback: v => isMultiple(v, xLabelStep[i]) ? String(v) : ''
          }
        },
        y: {
          min: 0,
          max: yMax[i],
          afterFit: s => { s.width = 131; s.paddingTop = 0; s.paddingBottom = 0; },
          border: { display: true, color: '#555' },
          grid: { color: '#dae5ee', tickColor: '#555', tickLength: 14 },
          ticks: {
            stepSize: yGridStep[i],
            autoSkip: false,
            padding: 15,
            color: '#222',
            font: tickFont,
            callback: v => isMultiple(v, yLabelStep[i]) ? v.toFixed(3).replace('.', ',') : ''
          }
        }
      }
    },
    plugins: [frame]
  });
});
</script>
</body>
</html>
